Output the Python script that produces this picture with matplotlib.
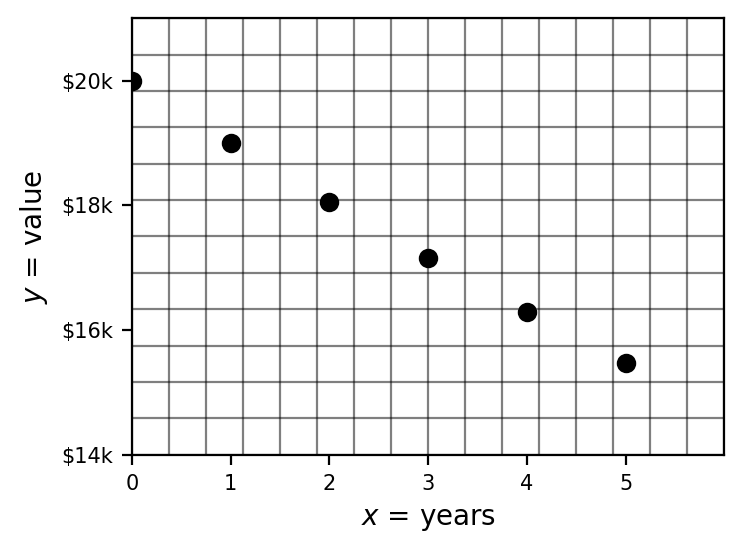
import numpy as np
import matplotlib
matplotlib.use('Agg')
import matplotlib.pyplot as plt

years = [0, 1, 2, 3, 4, 5]
values = [20000, 19000, 18050, 17147.5, 16290.1, 15475.6]
ytick_vals = [14000, 16000, 18000, 20000]
ytick_labels = ['$14k', '$16k', '$18k', '$20k']

fig = plt.figure(figsize=(3.71, 2.75), dpi=200)
ax = fig.add_axes([0.178, 0.173, 0.798, 0.794])

ax.plot(years, values, 'o', color='black', markersize=6, zorder=3)

ax.set_xlim(0, 6)
ax.set_ylim(14000, 21000)
ax.set_xticks(years)
ax.set_yticks(ytick_vals)
ax.set_yticklabels(ytick_labels)

# graph-paper grid (keep minor lines that sit on major ticks)
ax.xaxis.remove_overlapping_locs = False
ax.yaxis.remove_overlapping_locs = False
ax.set_xticks(np.linspace(0, 6, 17), minor=True)
ax.set_yticks(np.linspace(14000, 21000, 13), minor=True)
ax.tick_params(which='minor', length=0)
ax.tick_params(which='major', labelsize=7.5)
ax.grid(which='minor', color='black', alpha=0.5, linewidth=0.8)

ax.set_xlabel('$x$ = years', fontsize=10)
ax.set_ylabel('$y$ = value', fontsize=10)

fig.savefig('out.png', dpi=200)
